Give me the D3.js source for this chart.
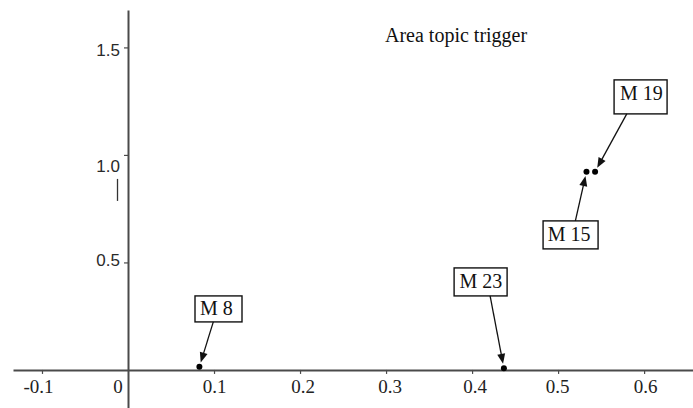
<!DOCTYPE html>
<html>
<head>
<meta charset="utf-8">
<script src="https://cdn.jsdelivr.net/npm/d3@7"></script>
<style>
  html, body { margin: 0; padding: 0; background: #fff; }
  svg { display: block; }
</style>
</head>
<body>
<svg id="chart" width="693" height="408"></svg>
<script>
// ---- data ----
const pointLabels = ["M 8", "M 23", "M 15", "M 19"];
const xValues = [0.083, 0.437, 0.533, 0.543];
const yValues = [0.015, 0.008, 0.922, 0.922];
const xTickValues = [-0.1, 0, 0.1, 0.2, 0.3, 0.4, 0.5, 0.6];
const xTickLabels = ["-0.1", "0", "0.1", "0.2", "0.3", "0.4", "0.5", "0.6"];
const yTickValues = [0.5, 1.0, 1.5];
const yTickLabels = ["0.5", "1.0", "1.5"];
const chartTitle = "Area topic trigger";

// ---- layout ----
const W = 693, H = 408;
const svg = d3.select("#chart");
const x = d3.scaleLinear().domain([-0.1337, 0.658]).range([13, 694]);
const y = d3.scaleLinear().domain([-0.177, 1.674]).range([408, 10]);
const axisColor = "#4a4a4a";

// annotation box layout relative to the point (px): dx, dy, w, h, text dx, text baseline, arrow start within box
const annLayout = [
  {dx: -4.4,  dy: -70.8,  w: 47, h: 26, tx: 5,   ty: 19,   sx: 18.3, sy: 26},
  {dx: -49.8, dy: -100.3, w: 53, h: 28, tx: 5.3, ty: 20,   sx: 36,   sy: 28},
  {dx: -43.4, dy: 49.2,   w: 55, h: 28, tx: 4.7, ty: 20.5, sx: 32.3, sy: 0},
  {dx: 19,    dy: -91.8,  w: 53, h: 34, tx: 6,   ty: 20,   sx: 12.7, sy: 34}
];
const xLabelDx = [-4, -10.5, 0, 2.5, 3.5, 2.5, -1, 1];
const yLabelDy = [-3, 10.5, 2.5];

// x axis (line + ticks below)
const xAxis = d3.axisBottom(x).tickValues(xTickValues).tickSize(4).tickSizeOuter(0)
  .tickFormat((d, i) => xTickLabels[i]);
const gx = svg.append("g").attr("transform", `translate(0,${y(0)})`).call(xAxis);
gx.select(".domain").attr("stroke", axisColor).attr("stroke-width", 2);
gx.selectAll(".tick line").attr("stroke", axisColor).attr("stroke-width", 1.2)
  .attr("opacity", (d) => d === 0 ? 0 : 1);
gx.selectAll(".tick text")
  .attr("font-family", "'Liberation Serif', 'Times New Roman', serif")
  .attr("font-size", 19).attr("fill", "#222")
  .attr("y", 0).attr("dy", 0)
  .attr("transform", (d, i) => `translate(${xLabelDx[i]},23)`);

// y axis (line + ticks left)
const yAxis = d3.axisLeft(y).tickValues(yTickValues).tickSize(4).tickSizeOuter(0)
  .tickFormat((d, i) => yTickLabels[i]);
const gy = svg.append("g").attr("transform", `translate(${x(0)},0)`).call(yAxis);
gy.select(".domain").attr("stroke", axisColor).attr("stroke-width", 2);
gy.selectAll(".tick line").attr("stroke", axisColor).attr("stroke-width", 1.2);
gy.selectAll(".tick text")
  .attr("font-family", "'Liberation Sans', Arial, sans-serif")
  .attr("font-size", 17).attr("fill", "#2a2a2a")
  .attr("x", -8).attr("dy", "0.35em")
  .attr("transform", (d, i) => `translate(0,${yLabelDy[i]})`);

// small stray mark below the 1.0 label
svg.append("line")
  .attr("x1", x(0) - 10.5).attr("x2", x(0) - 10.5)
  .attr("y1", y(1.0) + 24).attr("y2", y(1.0) + 46)
  .attr("stroke", "#333").attr("stroke-width", 1.3);

// title
svg.append("text")
  .attr("x", 385).attr("y", 42)
  .attr("font-family", "'Liberation Serif', 'Times New Roman', serif")
  .attr("font-size", 20).attr("fill", "#111")
  .text(chartTitle);

// points
const pts = pointLabels.map((lab, i) => ({lab, px: x(xValues[i]), py: y(yValues[i]), L: annLayout[i]}));
svg.append("g").selectAll("circle").data(pts).join("circle")
  .attr("cx", d => d.px).attr("cy", d => d.py).attr("r", 3).attr("fill", "#000");

// annotations
const ann = svg.append("g").selectAll("g").data(pts).join("g");
ann.each(function(d) {
  const g = d3.select(this);
  const L = d.L;
  const bx = d.px + L.dx, by = d.py + L.dy;
  g.append("rect").attr("x", bx).attr("y", by).attr("width", L.w).attr("height", L.h)
    .attr("fill", "#fff").attr("stroke", "#111").attr("stroke-width", 1.4);
  g.append("text").attr("x", bx + L.tx).attr("y", by + L.ty)
    .attr("font-family", "'Liberation Serif', 'Times New Roman', serif")
    .attr("font-size", 20).attr("fill", "#111").text(d.lab);
  // arrow
  const sx = bx + L.sx, sy = by + L.sy;
  const vx = d.px - sx, vy = d.py - sy;
  const len = Math.hypot(vx, vy);
  const ux = vx / len, uy = vy / len;
  const tipX = d.px - ux * 4.5, tipY = d.py - uy * 4.5;
  const headLen = 10, headW = 4;
  const baseX = tipX - ux * headLen, baseY = tipY - uy * headLen;
  g.append("line").attr("x1", sx).attr("y1", sy).attr("x2", baseX + ux).attr("y2", baseY + uy)
    .attr("stroke", "#111").attr("stroke-width", 1.3);
  const nx = -uy, ny = ux;
  g.append("path")
    .attr("d", `M${tipX},${tipY}L${baseX + nx * headW},${baseY + ny * headW}L${baseX - nx * headW},${baseY - ny * headW}Z`)
    .attr("fill", "#111");
});
</script>
</body>
</html>
